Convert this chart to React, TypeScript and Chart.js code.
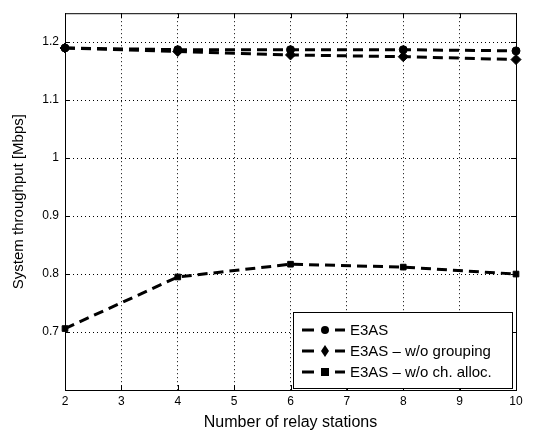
import React, { useEffect, useRef } from "react";
import { Chart, registerables } from "chart.js";
Chart.register(...registerables);

const relayStations = [2, 4, 6, 8, 10];
const e3as = [1.19, 1.187, 1.187, 1.187, 1.185];
const e3asNoGrouping = [1.19, 1.184, 1.178, 1.175, 1.17];
const e3asNoChAlloc = [0.706, 0.795, 0.817, 0.812, 0.8];
const seriesNames = ["E3AS", "E3AS – w/o grouping", "E3AS – w/o ch. alloc."];
const yTicks = [0.7, 0.8, 0.9, 1, 1.1, 1.2];
const xTicks = [2, 3, 4, 5, 6, 7, 8, 9, 10];

const FONT = "'Liberation Sans', Arial, Helvetica, sans-serif";
const DASH = [10, 6];

const frameAndLegend = {
  id: "frameAndLegend",
  afterDatasetsDraw(chart: any) {
    const { ctx, chartArea: a } = chart;
    ctx.save();
    ctx.strokeStyle = "#000";
    ctx.lineWidth = 1;
    ctx.setLineDash([]);
    ctx.strokeRect(a.left + 0.5, a.top + 0.5, a.right - a.left, a.bottom - a.top);
    const xs = chart.scales.x;
    const ys = chart.scales.y;
    ctx.beginPath();
    xs.ticks.forEach((t: any) => {
      const px = Math.round(xs.getPixelForValue(t.value)) + 0.5;
      ctx.moveTo(px, a.bottom); ctx.lineTo(px, a.bottom - 5);
      ctx.moveTo(px, a.top); ctx.lineTo(px, a.top + 5);
    });
    ys.ticks.forEach((t: any) => {
      const py = Math.round(ys.getPixelForValue(t.value)) + 0.5;
      ctx.moveTo(a.left, py); ctx.lineTo(a.left + 5, py);
      ctx.moveTo(a.right, py); ctx.lineTo(a.right - 5, py);
    });
    ctx.stroke();

    // legend box
    const bx = a.left + 228, by = a.bottom - 78, bw = a.right - 4 - bx, bh = 76;
    ctx.fillStyle = "#fff";
    ctx.fillRect(bx, by, bw, bh);
    ctx.strokeRect(bx + 0.5, by + 0.5, bw, bh);
    chart.data.datasets.forEach((ds: any, i: number) => {
      const cy = by + 18 + i * 21;
      ctx.strokeStyle = "#000";
      ctx.lineWidth = 3;
      ctx.setLineDash([]);
      ctx.beginPath();
      ctx.moveTo(bx + 9, cy); ctx.lineTo(bx + 21, cy);
      ctx.moveTo(bx + 42, cy); ctx.lineTo(bx + 52, cy);
      ctx.stroke();
      ctx.fillStyle = "#000";
      const mx = bx + 32;
      const r = ds.pointRadius;
      ctx.beginPath();
      if (ds.pointStyle === "circle") ctx.arc(mx, cy, r, 0, Math.PI * 2);
      else if (ds.pointStyle === "rectRot") {
        ctx.moveTo(mx, cy - r - 1); ctx.lineTo(mx + r - 1, cy); ctx.lineTo(mx, cy + r + 1); ctx.lineTo(mx - r + 1, cy); ctx.closePath();
      } else ctx.rect(mx - r, cy - r, 2 * r, 2 * r);
      ctx.fill();
      ctx.font = `15px ${FONT}`;
      ctx.textBaseline = "middle";
      ctx.textAlign = "left";
      ctx.fillText(ds.label, bx + 57, cy + 1);
    });
    ctx.restore();
  },
};

export default function App() {
  const ref = useRef<HTMLCanvasElement>(null);
  useEffect(() => {
    const mk = (label: string, data: number[], style: string, r: number) => ({
      label,
      data: data.map((y, i) => ({ x: relayStations[i], y })),
      borderColor: "#000",
      backgroundColor: "#000",
      borderWidth: 3,
      borderDash: DASH,
      pointStyle: style,
      pointRadius: r,
      pointBorderWidth: 1,
      pointBorderColor: "#000",
      pointBackgroundColor: "#000",
      tension: 0,
      clip: false,
    });
    const chart = new Chart(ref.current!, {
      type: "line",
      data: {
        datasets: [
          mk(seriesNames[0], e3as, "circle", 4),
          mk(seriesNames[1], e3asNoGrouping, "rectRot", 5),
          mk(seriesNames[2], e3asNoChAlloc, "rect", 4),
        ] as any,
      },
      options: {
        animation: false,
        responsive: false,
        devicePixelRatio: 1,
        layout: { padding: { left: 0, top: 12, right: 33, bottom: 0 } },
        plugins: { legend: { display: false }, tooltip: { enabled: false } },
        scales: {
          x: {
            type: "linear",
            min: 2,
            max: 10,
            afterBuildTicks: (s: any) => { s.ticks = xTicks.map((v) => ({ value: v })); },
            afterFit: (s: any) => { s.height = 42; },
            ticks: { color: "#000", font: { family: FONT, size: 12 }, padding: 4, maxRotation: 0, callback: (v: any) => String(v) },
            grid: { color: "#000", lineWidth: 1, drawTicks: false },
            border: { display: false, dash: [1, 3] },
            title: { display: true, text: "Number of relay stations", color: "#000", font: { family: FONT, size: 16 }, padding: { top: 0, bottom: 0 } },
          },
          y: {
            type: "linear",
            min: 0.6,
            max: 1.25,
            afterBuildTicks: (s: any) => { s.ticks = yTicks.map((v) => ({ value: v })); },
            afterFit: (s: any) => { s.width = 65; },
            ticks: { color: "#000", font: { family: FONT, size: 12 }, padding: 6, callback: (v: any) => String(Math.round(v * 10) / 10) },
            grid: { color: "#000", lineWidth: 1, drawTicks: false },
            border: { display: false, dash: [1, 3] },
            title: { display: true, text: "System throughput [Mbps]", color: "#000", font: { family: FONT, size: 15 }, padding: { top: 10, bottom: 2 } },
          },
        },
      },
      plugins: [frameAndLegend],
    });
    return () => chart.destroy();
  }, []);
  return (
    <div style={{ position: "fixed", left: 0, top: 0, width: 549, height: 432, background: "#fff" }}>
      <canvas ref={ref} width={549} height={432} />
    </div>
  );
}
